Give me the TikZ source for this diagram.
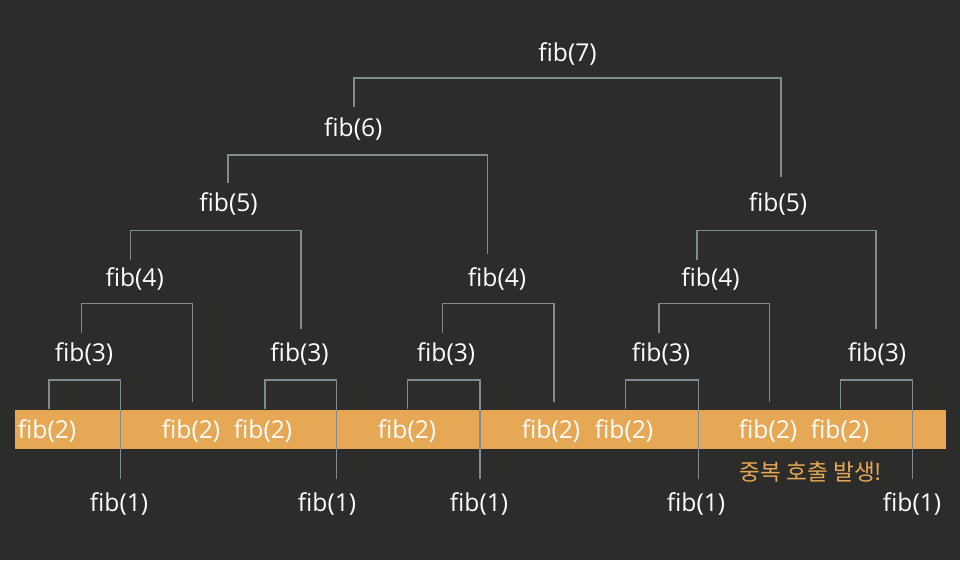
\documentclass[tikz,border=0pt]{standalone}
\usepackage{fontspec}
\setmainfont{Open Sans}
\newfontfamily\krfont{Noto Sans CJK KR}
\definecolor{bgc}{RGB}{44,44,42}
\definecolor{bandc}{RGB}{230,168,84}
\definecolor{linec}{RGB}{127,140,146}
\begin{document}
\begin{tikzpicture}[x=1pt,y=-1pt,
  fib/.style={text=white,font=\fontsize{24.6}{24.6}\selectfont,inner sep=0pt,text height=22.4pt,text depth=5.9pt},
  conn/.style={draw=linec,line width=1.5pt},
  band/.style={fill=bandc},
  note/.style={text=bandc,font=\krfont\fontsize{22.6}{22.6}\selectfont,inner sep=0pt}]
\useasboundingbox (0,0) rectangle (960,560);
\fill[bgc] (0,0) rectangle (960,560);
\fill[band] (15,410) rectangle (946,449);
% nodes positions
\path
  (567.5,53) node[fib] (n7) {fib(7)}
  (353.3,128) node[fib] (n6) {fib(6)}
  (228.5,203) node[fib] (n5a) {fib(5)}
  (778,203) node[fib] (n5b) {fib(5)}
  (134.7,278) node[fib] (n4a) {fib(4)}
  (497,278) node[fib] (n4b) {fib(4)}
  (710.5,278) node[fib] (n4c) {fib(4)}
  (84,353) node[fib] (n3a) {fib(3)}
  (299.6,353) node[fib] (n3b) {fib(3)}
  (446,353) node[fib] (n3c) {fib(3)}
  (661,353) node[fib] (n3d) {fib(3)}
  (877,353) node[fib] (n3e) {fib(3)}
  (47,430) node[fib] (n2a) {fib(2)}
  (191,430) node[fib] (n2b) {fib(2)}
  (263,430) node[fib] (n2c) {fib(2)}
  (407,430) node[fib] (n2d) {fib(2)}
  (551,430) node[fib] (n2e) {fib(2)}
  (624,430) node[fib] (n2f) {fib(2)}
  (768,430) node[fib] (n2g) {fib(2)}
  (840,430) node[fib] (n2h) {fib(2)}
  (119,503) node[fib] (n1a) {fib(1)}
  (327,503) node[fib] (n1b) {fib(1)}
  (479,503) node[fib] (n1c) {fib(1)}
  (696,503) node[fib] (n1d) {fib(1)}
  (912,503) node[fib] (n1e) {fib(1)};
\node[note] (dup) at (811,472) {중복 호출 발생!};
% bracket levels
\coordinate (b7) at (567.5,78);
\coordinate (b6) at (353.3,155);
\coordinate (b5a) at (228.5,230.7);
\coordinate (b5b) at (778,230.7);
\coordinate (b4a) at (134.7,303.3);
\coordinate (b4b) at (497,303.3);
\coordinate (b4c) at (710.5,303.3);
\coordinate (b3a) at (84,380);
\coordinate (b3b) at (299.6,380);
\coordinate (b3c) at (446,380);
\coordinate (b3d) at (661,380);
\coordinate (b3e) at (877,380);
% connectors
\draw[conn] ([xshift=0.7pt,yshift=21pt]n6.center) |- (b7) -| ([xshift=3pt,yshift=26pt]n5b.center);
\draw[conn] ([xshift=-0.5pt,yshift=20pt]n5a.center) |- (b6) -| ([xshift=-9.3pt,yshift=24pt]n4b.center);
\draw[conn] ([xshift=-4pt,yshift=18pt]n4a.center) |- (b5a) -| ([xshift=1.4pt,yshift=24pt]n3b.center);
\draw[conn] ([xshift=-13.5pt,yshift=18pt]n4c.center) |- (b5b) -| ([xshift=-1pt,yshift=24pt]n3e.center);
\draw[conn] ([xshift=-2.3pt,yshift=20pt]n3a.center) |- (b4a) -| ([xshift=1.7pt,yshift=28pt]n2b.center);
\draw[conn] ([xshift=-3.3pt,yshift=20pt]n3c.center) |- (b4b) -| ([xshift=3pt,yshift=28pt]n2e.center);
\draw[conn] ([xshift=-2pt,yshift=20pt]n3d.center) |- (b4c) -| ([xshift=1.7pt,yshift=28pt]n2g.center);
\draw[conn] ([xshift=2pt,yshift=21pt]n2a.center) |- (b3a) -| ([xshift=1.7pt,yshift=24pt]n1a.center);
\draw[conn] ([xshift=2pt,yshift=21pt]n2c.center) |- (b3b) -| ([xshift=9.7pt,yshift=24pt]n1b.center);
\draw[conn] ([xshift=0.3pt,yshift=21pt]n2d.center) |- (b3c) -| ([xshift=1pt,yshift=24pt]n1c.center);
\draw[conn] ([xshift=1.7pt,yshift=21pt]n2f.center) |- (b3d) -| ([xshift=2.3pt,yshift=24pt]n1d.center);
\draw[conn] ([xshift=0.7pt,yshift=21pt]n2h.center) |- (b3e) -| ([xshift=0.7pt,yshift=24pt]n1e.center);
\end{tikzpicture}
\end{document}
